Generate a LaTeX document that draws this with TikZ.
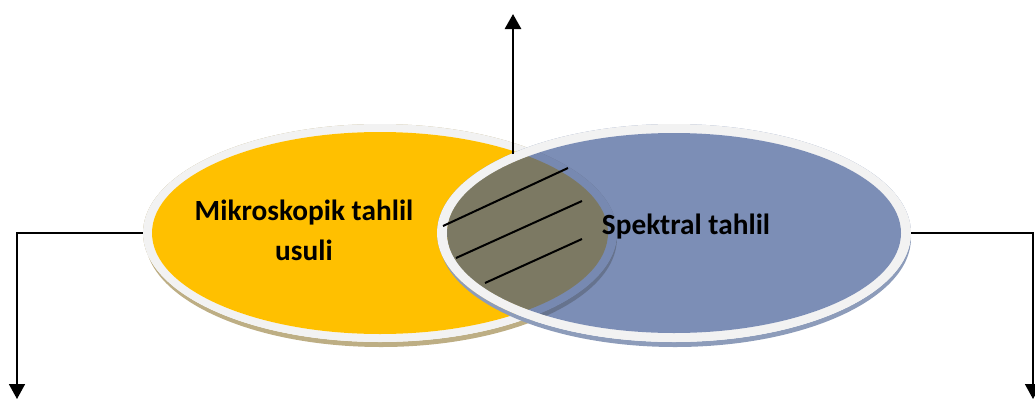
\documentclass[tikz,border=0pt]{standalone}
\usepackage{fontspec}
\setmainfont{Carlito}
\usetikzlibrary{shapes.geometric,arrows.meta}
\definecolor{ringgray}{HTML}{F2F2F2}
\definecolor{goldfill}{HTML}{FFC000}
\definecolor{goldshadow}{HTML}{BDAE84}
\definecolor{slatefill}{RGB}{62,88,147}
\definecolor{slateshadow}{HTML}{8D9CBA}
\tikzset{
  ringshape/.style={ellipse, inner sep=0pt,
    minimum width=474pt, minimum height=218pt},
  label/.style={font=\bfseries\fontsize{29.3}{40}\selectfont, inner sep=0pt,
    align=center, text=black},
  tip/.style={-{Triangle[length=15pt,width=16pt]}},
  conn/.style={draw=black, line width=1.6pt, tip},
  hatch/.style={draw=black, line width=2pt},
}
\begin{document}
\begin{tikzpicture}[x=1pt,y=-1pt]
\useasboundingbox (0,0) rectangle (1035,399);

% left ellipse: shadow, white ring, gold face
\node[ringshape] (mik) at (380,233) {};
\fill[goldshadow, even odd rule] (381,238) ellipse [x radius=236, y radius=109]
  (380,233) ellipse [x radius=237, y radius=109];
\fill[ringgray, even odd rule] (380,233) ellipse [x radius=237, y radius=109]
  (380,233) ellipse [x radius=228, y radius=101];
\fill[goldfill] (380,233) ellipse [x radius=228, y radius=101];

% right ellipse: shadow, white ring, translucent slate face
\node[ringshape] (spe) at (674,233) {};
\fill[slateshadow, even odd rule] (675,238) ellipse [x radius=236, y radius=109]
  (674,233) ellipse [x radius=237, y radius=109];
\fill[ringgray, even odd rule] (674,233) ellipse [x radius=237, y radius=109]
  (674,233) ellipse [x radius=227, y radius=100];
\fill[slatefill, fill opacity=0.68] (674,233) ellipse [x radius=227, y radius=100];

% hatching in the overlap
\draw[hatch] (443,226) -- (568,168);
\draw[hatch] (456,258) -- (582,201);
\draw[hatch] (485,283) -- (582,239);

% labels
\node[label, anchor=base] (mikt) at (304,260) {Mikroskopik tahlil\\usuli};
\node[label, anchor=base] (spet) at (686,234) {Spektral tahlil};

% connectors
\coordinate (ts) at (513,154);
\coordinate (te) at (513,14);
\coordinate (lb) at (17,399);
\coordinate (rb) at (1033,399);
\draw[conn, line width=2.8pt] (ts) -- (te);
\draw[conn] (mik.west) -| (lb);
\draw[conn] (spe.east) -| (rb);
\end{tikzpicture}
\end{document}
